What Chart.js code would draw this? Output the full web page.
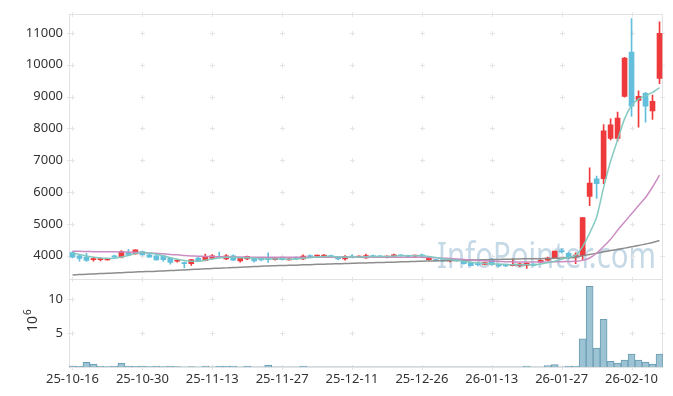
<!DOCTYPE html>
<html lang="ko">
<head>
  <meta charset="UTF-8">
  <title>Candle chart</title>
  <script src="https://cdn.jsdelivr.net/npm/chart.js"></script>
  <style>
    html, body { margin: 0; padding: 0; background: #fff; }
    #wrap { width: 673px; height: 396px; }
  </style>
</head>
<body>
  <div id="wrap"><canvas id="grafico" width="673" height="396"></canvas></div>

  <script>
    // trading days (YY-MM-DD)
    const dates = [
      '25-10-16','25-10-17','25-10-20','25-10-21','25-10-22','25-10-23','25-10-24','25-10-27','25-10-28','25-10-29',
      '25-10-30','25-10-31','25-11-03','25-11-04','25-11-05','25-11-06','25-11-07','25-11-10','25-11-11','25-11-12',
      '25-11-13','25-11-14','25-11-17','25-11-18','25-11-19','25-11-20','25-11-21','25-11-24','25-11-25','25-11-26',
      '25-11-27','25-11-28','25-12-01','25-12-02','25-12-03','25-12-04','25-12-05','25-12-08','25-12-09','25-12-10',
      '25-12-11','25-12-12','25-12-15','25-12-16','25-12-17','25-12-18','25-12-19','25-12-22','25-12-23','25-12-24',
      '25-12-26','25-12-29','25-12-30','26-01-02','26-01-05','26-01-06','26-01-07','26-01-08','26-01-09','26-01-12',
      '26-01-13','26-01-14','26-01-15','26-01-16','26-01-19','26-01-20','26-01-21','26-01-22','26-01-23','26-01-26',
      '26-01-27','26-01-28','26-01-29','26-01-30','26-02-02','26-02-03','26-02-04','26-02-05','26-02-06','26-02-09',
      '26-02-10','26-02-11','26-02-12','26-02-13','26-02-19'
    ];

    const opens = [
      4100,4000,3960,3880,3880,3870,4000,3960,4100,4060,
      4130,4030,4000,3990,3930,3830,3790,3750,3930,3850,
      3920,3970,3900,4000,3840,3900,3920,3940,3930,3880,
      3920,3870,3950,3900,4010,3990,3990,4010,3950,3900,
      3980,3960,3930,4010,4000,3950,3990,4020,4010,3990,
      4030,3880,3880,3870,3840,3880,3850,3790,3740,3730,
      3900,3720,3700,3690,3690,3700,3740,3800,3860,3940,
      4160,4080,3980,4000,5864,6419,6419,7687,7687,9006,
      10396,8882,9099,8552,9571
    ];
    const highs = [
      4130,4020,4080,3960,3940,3910,4020,4160,4200,4190,
      4150,4060,4010,4000,3940,3870,3810,3890,3950,4050,
      4040,4120,4040,4030,3940,3990,3930,3950,4090,3940,
      3930,3910,3970,4030,4030,4020,4040,4020,3960,4010,
      4040,4000,4050,4020,4010,4000,4050,4030,4020,4020,
      4050,3970,3890,3880,3880,3890,3860,3800,3750,3800,
      3910,3730,3710,3900,3770,3790,3750,3870,3960,4150,
      4220,4100,4090,5200,6759,6503,8119,8305,8511,10230,
      11447,9182,9130,9046,11345
    ];
    const lows = [
      3940,3830,3820,3830,3840,3860,3950,3930,4010,4050,
      4020,3950,3860,3820,3740,3800,3620,3700,3820,3840,
      3900,3930,3880,3850,3800,3880,3800,3840,3790,3860,
      3860,3860,3890,3880,3960,3980,3980,3940,3870,3860,
      3940,3950,3920,3960,3960,3930,3980,3990,3960,3950,
      3980,3860,3830,3820,3810,3830,3740,3680,3680,3720,
      3700,3650,3660,3680,3660,3600,3680,3790,3850,3930,
      4080,3900,3750,3880,5576,5801,6265,7635,7606,8980,
      8379,8040,8200,8286,9407
    ];
    const closes = [
      3960,3920,3855,3900,3900,3900,3960,4130,4030,4190,
      4030,3960,3870,3880,3790,3850,3750,3880,3830,3980,
      4000,3950,4000,3860,3920,3980,3840,3870,3880,3920,
      3880,3900,3900,3990,3970,4000,4020,3950,3900,3980,
      3960,3990,4010,3970,3970,3990,4030,4000,3970,4010,
      3990,3940,3840,3840,3860,3840,3750,3690,3720,3790,
      3730,3680,3680,3730,3750,3760,3700,3860,3930,4150,
      4120,3960,4020,5196,6287,6265,7924,8110,8326,10211,
      8697,9006,8697,8851,10983
    ];

    // volume, millions
    const volumes = [
      0.12,0.10,0.69,0.44,0.15,0.05,0.12,0.59,0.12,0.10,
      0.12,0.05,0.12,0.05,0.12,0.05,0.03,0.05,0.03,0.12,
      0.04,0.12,0.12,0.12,0.04,0.12,0.04,0.03,0.30,0.04,
      0.03,0.03,0.03,0.12,0.03,0.03,0.03,0.03,0.03,0.03,
      0.03,0.03,0.03,0.03,0.03,0.03,0.03,0.03,0.03,0.03,
      0.03,0.03,0.03,0.03,0.03,0.03,0.03,0.03,0.03,0.03,
      0.03,0.03,0.03,0.03,0.03,0.15,0.03,0.03,0.20,0.35,
      0.04,0.12,0.15,4.14,11.86,2.78,7.03,0.83,0.59,1.02,
      1.90,1.02,0.73,0.44,1.90
    ];

    // moving average lines
    const ma5 = [
      4080,4040,3990,3950,3930,3920,3920,3960,4010,4070,
      4100,4090,4050,4000,3940,3890,3850,3830,3830,3860,
      3900,3930,3950,3950,3940,3940,3920,3910,3900,3900,
      3900,3890,3900,3920,3940,3960,3980,3980,3970,3960,
      3960,3960,3970,3980,3980,3980,3990,4000,4000,4000,
      4000,3980,3950,3910,3880,3860,3830,3800,3780,3760,
      3750,3740,3730,3720,3720,3720,3720,3740,3780,3830,
      3890,3950,4010,4290,4710,5210,6140,6970,7640,8300,
      8720,8920,9030,9130,9280
    ];
    const ma20 = [
      4145,4140,4135,4130,4130,4130,4125,4120,4115,4110,
      4100,4090,4080,4060,4040,4030,4010,3995,3985,3980,
      3975,3970,3965,3965,3960,3960,3955,3955,3950,3950,
      3950,3950,3950,3950,3950,3950,3955,3955,3955,3955,
      3955,3955,3955,3955,3955,3955,3955,3955,3950,3950,
      3950,3945,3935,3925,3915,3900,3885,3870,3855,3840,
      3830,3820,3815,3810,3805,3805,3805,3805,3805,3810,
      3815,3820,3825,3855,3930,4080,4290,4516,4800,5060,
      5320,5576,5830,6160,6530
    ];
    const ma60 = [
      3400,3410,3420,3430,3440,3450,3460,3470,3480,3490,
      3500,3505,3515,3525,3535,3545,3555,3570,3580,3590,
      3600,3610,3620,3630,3640,3650,3660,3670,3680,3690,
      3695,3700,3705,3715,3720,3730,3735,3745,3750,3755,
      3765,3770,3775,3780,3790,3795,3800,3810,3815,3820,
      3830,3835,3840,3845,3850,3855,3860,3865,3870,3875,
      3880,3885,3890,3895,3900,3905,3905,3910,3915,3920,
      3930,3940,3955,4000,4040,4080,4125,4165,4200,4240,
      4280,4320,4370,4420,4480
    ];

    const priceTicks = [4000, 5000, 6000, 7000, 8000, 9000, 10000, 11000];
    const volTicks = [5, 10];

    const RED = '#ee3a3c';
    const BLUE = '#63bfdc';
    const upDown = (c) => closes[c.dataIndex] >= opens[c.dataIndex] ? RED : BLUE;

    // grid crosses, panel borders, watermark
    const frame = {
      id: 'frame',
      beforeDatasetsDraw(chart) {
        const { ctx, chartArea: a, scales } = chart;
        const x = scales.x, y = scales.y, yv = scales.yv;
        const px = (v) => Math.round(v) + 0.5;
        ctx.save();

        ctx.font = '37px "Noto Sans"';
        ctx.fillStyle = 'rgba(120,165,198,0.42)';
        ctx.textBaseline = 'alphabetic';
        ctx.fillText('InfoPointer.com', 437, 268, 219);

        const xs = [];
        dates.forEach((d, i) => { if (i % 10 === 0) xs.push(px(x.getPixelForValue(i))); });
        const ticksY = priceTicks.map(v => px(y.getPixelForValue(v)))
          .concat(volTicks.map(v => px(yv.getPixelForValue(v))));
        const edgesY = [px(a.top), px(y.bottom), px(a.bottom)];

        ctx.strokeStyle = '#e4e4e4';
        ctx.lineWidth = 1;
        const cross = (cx, cy) => {
          ctx.beginPath();
          ctx.moveTo(cx - 2.5, cy); ctx.lineTo(cx + 2.5, cy);
          ctx.moveTo(cx, cy - 2.5); ctx.lineTo(cx, cy + 2.5);
          ctx.stroke();
        };
        xs.forEach(cx => ticksY.concat(edgesY).forEach(cy => cross(cx, cy)));
        [px(a.left), px(a.right - 1)].forEach(cx => ticksY.forEach(cy => cross(cx, cy)));

        ctx.strokeStyle = '#e2e2e2';
        ctx.beginPath();
        ctx.moveTo(a.left, px(a.top)); ctx.lineTo(a.right, px(a.top));
        ctx.moveTo(a.left, px(y.bottom)); ctx.lineTo(a.right, px(y.bottom));
        ctx.moveTo(a.left, px(a.bottom)); ctx.lineTo(a.right, px(a.bottom));
        ctx.moveTo(px(a.left), a.top); ctx.lineTo(px(a.left), a.bottom);
        ctx.moveTo(px(a.right - 1), a.top); ctx.lineTo(px(a.right - 1), a.bottom);
        ctx.stroke();
        ctx.restore();
      },
      afterDraw(chart) {
        // volume unit label 10^6
        const ctx = chart.ctx;
        ctx.save();
        ctx.translate(37, 332);
        ctx.rotate(-Math.PI / 2);
        ctx.fillStyle = '#333';
        ctx.font = '14px "Noto Sans"';
        ctx.textBaseline = 'alphabetic';
        ctx.fillText('10', 0, 0);
        const w = ctx.measureText('10').width;
        ctx.font = '10px "Noto Sans"';
        ctx.fillText('6', w + 1, -6);
        ctx.restore();
      }
    };

    const tickFont = { family: 'Noto Sans', size: 13 };
    const plain = (v) => String(v);

    new Chart(document.getElementById('grafico'), {
      data: {
        labels: dates,
        datasets: [
          { type: 'line', data: ma5, yAxisID: 'y', borderColor: 'rgba(128,200,190,0.95)', borderWidth: 1.5, pointRadius: 0, tension: 0.2, order: 1 },
          { type: 'line', data: ma20, yAxisID: 'y', borderColor: 'rgba(200,135,192,0.95)', borderWidth: 1.5, pointRadius: 0, tension: 0.2, order: 2 },
          { type: 'line', data: ma60, yAxisID: 'y', borderColor: 'rgba(135,135,135,0.95)', borderWidth: 1.5, pointRadius: 0, tension: 0.2, order: 3 },
          {
            type: 'bar', data: opens.map((o, i) => [o, closes[i]]), yAxisID: 'y',
            backgroundColor: upDown, grouped: false, barThickness: 5, minBarLength: 1, order: 4
          },
          {
            type: 'bar', data: lows.map((l, i) => [l, highs[i]]), yAxisID: 'y',
            backgroundColor: upDown, grouped: false, barThickness: 1, order: 5
          },
          {
            type: 'bar', data: volumes, yAxisID: 'yv',
            backgroundColor: '#9cc3d3', borderColor: '#6b9db3', borderWidth: 1,
            grouped: false, barPercentage: 1, categoryPercentage: 1, order: 6
          }
        ]
      },
      options: {
        responsive: false,
        animation: false,
        layout: { padding: { top: 10, right: 10, left: 0, bottom: 0 } },
        plugins: { legend: { display: false }, tooltip: { enabled: false } },
        scales: {
          x: {
            type: 'category',
            offset: true,
            grid: { display: false, drawTicks: false },
            border: { display: false },
            ticks: {
              autoSkip: false, maxRotation: 0, padding: 4, color: '#333', font: tickFont,
              callback: (v, i) => i % 10 === 0 ? dates[i] : null
            },
            afterFit: (s) => { s.height = 29; }
          },
          yv: {
            position: 'left', stack: 'panels', stackWeight: 1,
            min: 0, max: 13,
            grid: { display: false, drawTicks: false },
            border: { display: false },
            ticks: { padding: 6, color: '#333', font: tickFont, callback: plain },
            afterBuildTicks: (s) => { s.ticks = volTicks.map(v => ({ value: v })); },
            afterFit: (s) => { s.width = 69; }
          },
          y: {
            position: 'left', stack: 'panels', stackWeight: 3,
            min: 3280, max: 11600,
            grid: { display: false, drawTicks: false },
            border: { display: false },
            ticks: { padding: 6, color: '#333', font: tickFont, callback: plain },
            afterBuildTicks: (s) => { s.ticks = priceTicks.map(v => ({ value: v })); },
            afterFit: (s) => { s.width = 69; }
          }
        }
      },
      plugins: [frame]
    });
  </script>
</body>
</html>
